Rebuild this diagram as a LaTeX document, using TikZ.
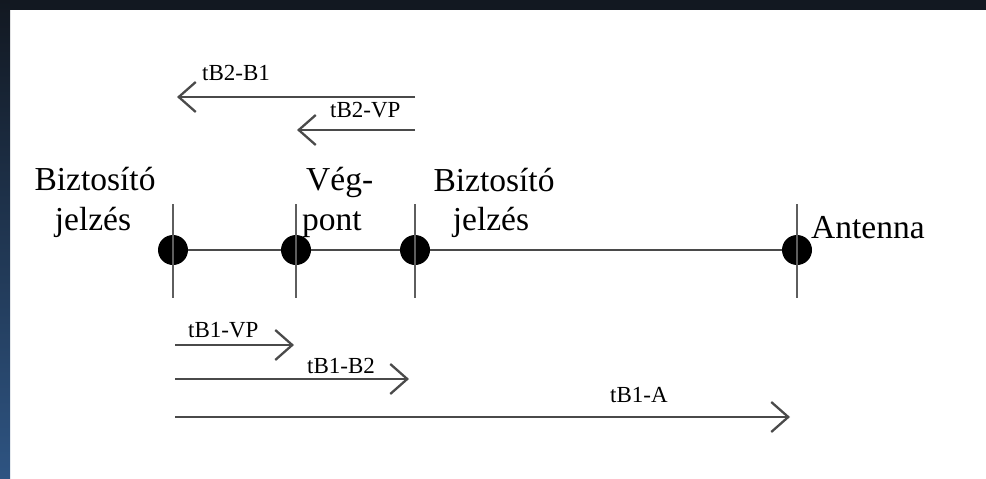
\documentclass[tikz,border=0pt]{standalone}
\usepackage{fontspec}
\setmainfont{Liberation Serif}
\usetikzlibrary{arrows.meta}
\definecolor{bandtop}{HTML}{121821}
\definecolor{bandbot}{HTML}{2E5482}
\definecolor{linegray}{HTML}{4A4A4A}
\definecolor{tickgray}{HTML}{5E5E5E}
\tikzset{
  biglabel/.style={inner sep=0pt, font=\fontsize{33.5}{40}\selectfont, text=black},
  smalllabel/.style={inner sep=0pt, font=\fontsize{23}{27}\selectfont, text=black, anchor=base west},
  dotnode/.style={circle, fill=black, inner sep=0pt, minimum size=30pt},
  axisline/.style={draw=linegray, line width=2.5pt},
  tickline/.style={draw=tickgray, line width=2.8pt},
  arr/.style={draw=linegray, line width=2.3pt, -{Straight Barb[length=17pt,width=30pt,line width=2.3pt]}},
}
\begin{document}
\begin{tikzpicture}[x=1pt,y=-1pt]
\useasboundingbox (0,0) rectangle (986,479);
\fill[white] (0,0) rectangle (986,479);
\fill[bandtop] (0,0) rectangle (986,10);
\shade[top color=bandtop, bottom color=bandbot] (0,0) rectangle (10,479);

% points
\node[dotnode] (p1) at (173,250) {};
\node[dotnode] (p2) at (296,250) {};
\node[dotnode] (p3) at (415,250) {};
\node[dotnode] (p4) at (797,250) {};

% ticks
\foreach \p in {p1,p2,p3,p4}{
  \draw[tickline] (\p.center) ++(0,-46) -- ++(0,94);
}
% main axis
\draw[axisline] (p1) -- (p2) -- (p3) -- (p4);

% labels
\node[biglabel, anchor=base] (b1a) at (95,190) {Biztosító};
\node[biglabel, anchor=base] (b1b) at (93,230) {jelzés};
\node[biglabel, anchor=base west] (vpa) at (306,190) {Vég-};
\node[biglabel, anchor=base west] (vpb) at (302,230) {pont};
\node[biglabel, anchor=base] (b2a) at (494,191) {Biztosító};
\node[biglabel, anchor=base] (b2b) at (491,230) {jelzés};
\node[biglabel, anchor=base west] (ant) at (811,238) {Antenna};

% top arrows
\coordinate (t1s) at (415,97);
\coordinate (t1e) at (177,97);
\draw[arr] (t1s) -- (t1e);
\node[smalllabel] (lt1) at (202,80) {tB2-B1};

\coordinate (t2s) at (415,130);
\coordinate (t2e) at (297,130);
\draw[arr] (t2s) -- (t2e);
\node[smalllabel] (lt2) at (330,117) {tB2-VP};

% bottom arrows
\coordinate (u1s) at (175,345);
\coordinate (u1e) at (294,345);
\draw[arr] (u1s) -- (u1e);
\node[smalllabel] (lu1) at (188,337) {tB1-VP};

\coordinate (u2s) at (175,379);
\coordinate (u2e) at (409,379);
\draw[arr] (u2s) -- (u2e);
\node[smalllabel] (lu2) at (307,373) {tB1-B2};

\coordinate (u3s) at (175,417);
\coordinate (u3e) at (790,417);
\draw[arr] (u3s) -- (u3e);
\node[smalllabel] (lu3) at (610,402) {tB1-A};
\end{tikzpicture}
\end{document}
